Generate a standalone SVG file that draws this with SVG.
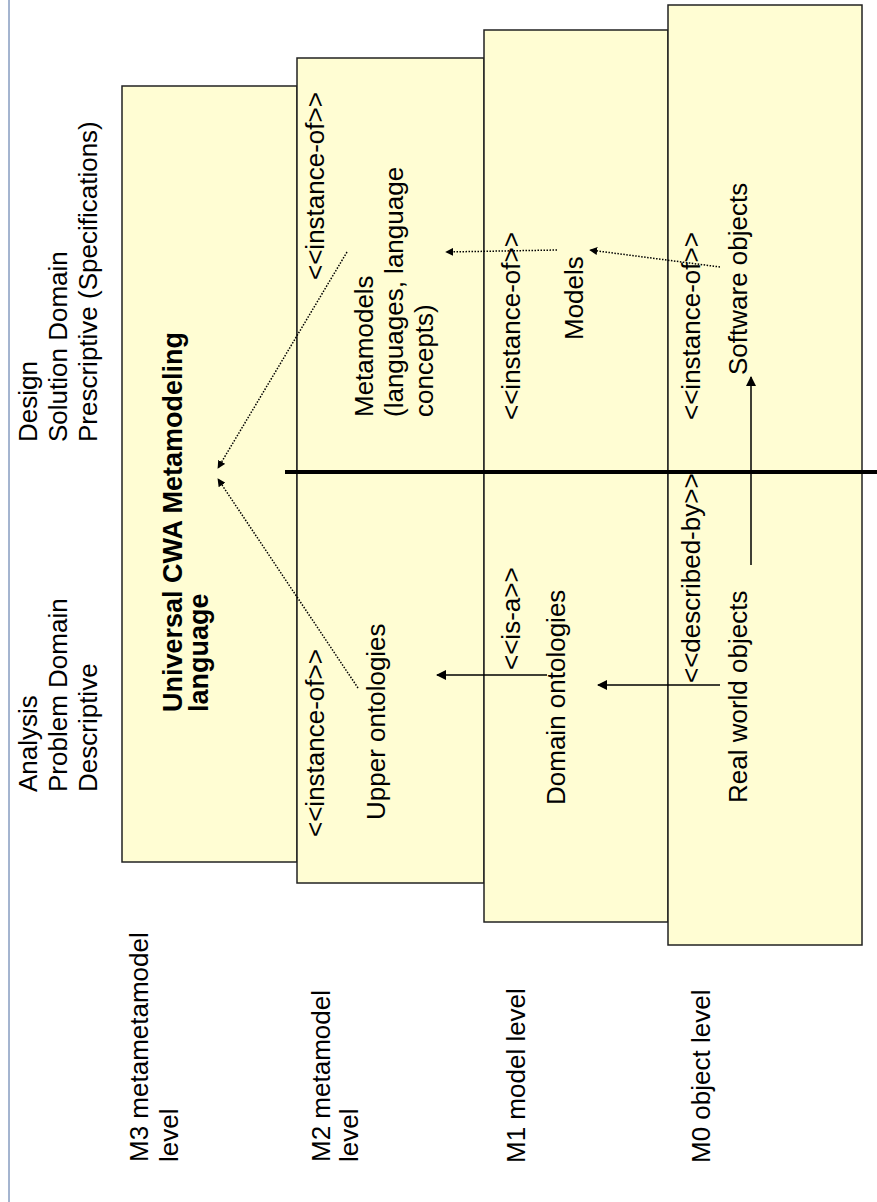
<svg xmlns="http://www.w3.org/2000/svg" width="877" height="1202" viewBox="0 0 877 1202">
<style>
.box{fill:#FFFDD3;stroke:#222;stroke-width:1.5}
.t{font-family:"Liberation Sans",Arial,sans-serif;font-size:26px;fill:#000}
.b{font-weight:bold;font-size:27px}
.dot{fill:none;stroke:#000;stroke-width:1.5;stroke-dasharray:1.5 1.5}
.sol{fill:none;stroke:#000;stroke-width:1.5}
</style>
<defs>
<marker id="ah" viewBox="0 0 10 10" refX="9" refY="5" markerWidth="8" markerHeight="8" markerUnits="userSpaceOnUse" orient="auto">
<path d="M0,0 L10,5 L0,10 z" fill="#000"/>
</marker>
<marker id="ah2" viewBox="0 0 10 10" refX="9" refY="5" markerWidth="10" markerHeight="10" markerUnits="userSpaceOnUse" orient="auto">
<path d="M0,0 L10,5 L0,10 z" fill="#000"/>
</marker>
</defs>
<rect width="877" height="1202" fill="#fff"/>
<line x1="9" y1="0" x2="9" y2="1202" stroke="#4a6aa0" stroke-width="1"/>

<g id="headers">
<text class="t" transform="translate(37,442) rotate(-90)"><tspan x="0" y="0">Design</tspan><tspan x="0" dy="30">Solution Domain</tspan><tspan x="0" dy="30">Prescriptive (Specifications)</tspan></text>
<text class="t" transform="translate(37,792) rotate(-90)"><tspan x="0" y="0">Analysis</tspan><tspan x="0" dy="30">Problem Domain</tspan><tspan x="0" dy="30">Descriptive</tspan></text>
</g>

<g id="m3">
<rect class="box" x="122" y="86" width="175" height="776"/>
<text class="t b" transform="translate(182,712) rotate(-90)"><tspan x="0" y="0">Universal CWA Metamodeling</tspan><tspan x="0" dy="26">language</tspan></text>
</g>

<g id="m2">
<rect class="box" x="297" y="58" width="187" height="825"/>
<text class="t" transform="translate(324,280) rotate(-90)">&lt;&lt;instance-of&gt;&gt;</text>
<text class="t" transform="translate(373,417) rotate(-90)"><tspan x="0" y="0">Metamodels</tspan><tspan x="0" dy="30">(languages, language</tspan><tspan x="0" dy="30">concepts)</tspan></text>
<text class="t" transform="translate(324,837) rotate(-90)">&lt;&lt;instance-of&gt;&gt;</text>
<text class="t" transform="translate(385,820) rotate(-90)">Upper ontologies</text>
</g>

<g id="m1">
<rect class="box" x="484" y="30" width="184" height="892"/>
<text class="t" transform="translate(520,420) rotate(-90)">&lt;&lt;instance-of&gt;&gt;</text>
<text class="t" transform="translate(583,340) rotate(-90)">Models</text>
<text class="t" transform="translate(520,670) rotate(-90)">&lt;&lt;is-a&gt;&gt;</text>
<text class="t" transform="translate(565,805) rotate(-90)">Domain ontologies</text>
</g>

<g id="m0">
<rect class="box" x="668" y="5" width="194" height="940"/>
<text class="t" transform="translate(700,420) rotate(-90)">&lt;&lt;instance-of&gt;&gt;</text>
<text class="t" transform="translate(747,375) rotate(-90)">Software objects</text>
<text class="t" transform="translate(700,683) rotate(-90)">&lt;&lt;described-by&gt;&gt;</text>
<text class="t" transform="translate(747,803) rotate(-90)">Real world objects</text>
</g>

<line x1="285" y1="472" x2="877" y2="472" stroke="#000" stroke-width="4"/>

<g id="levels">
<text class="t" transform="translate(148,1162) rotate(-90)"><tspan x="0" y="0">M3 metametamodel</tspan><tspan x="0" dy="30">level</tspan></text>
<text class="t" transform="translate(330,1162) rotate(-90)"><tspan x="0" y="0">M2 metamodel</tspan><tspan x="0" dy="28">level</tspan></text>
<text class="t" transform="translate(525,1163) rotate(-90)">M1 model level</text>
<text class="t" transform="translate(710,1163) rotate(-90)">M0 object level</text>
</g>

<g id="connectors">
<line class="dot" x1="347" y1="252" x2="218" y2="468" marker-end="url(#ah)"/>
<line class="dot" x1="358" y1="688" x2="218" y2="479" marker-end="url(#ah)"/>
<line class="dot" x1="557" y1="250" x2="446" y2="252" marker-end="url(#ah)"/>
<line class="dot" x1="720" y1="267" x2="590" y2="250" marker-end="url(#ah)"/>
<line class="sol" x1="751" y1="565" x2="751" y2="377" marker-end="url(#ah2)"/>
<line class="sol" x1="720" y1="685" x2="598" y2="685" marker-end="url(#ah2)"/>
<line class="sol" x1="547" y1="675" x2="437" y2="675" marker-end="url(#ah2)"/>
</g>
</svg>
